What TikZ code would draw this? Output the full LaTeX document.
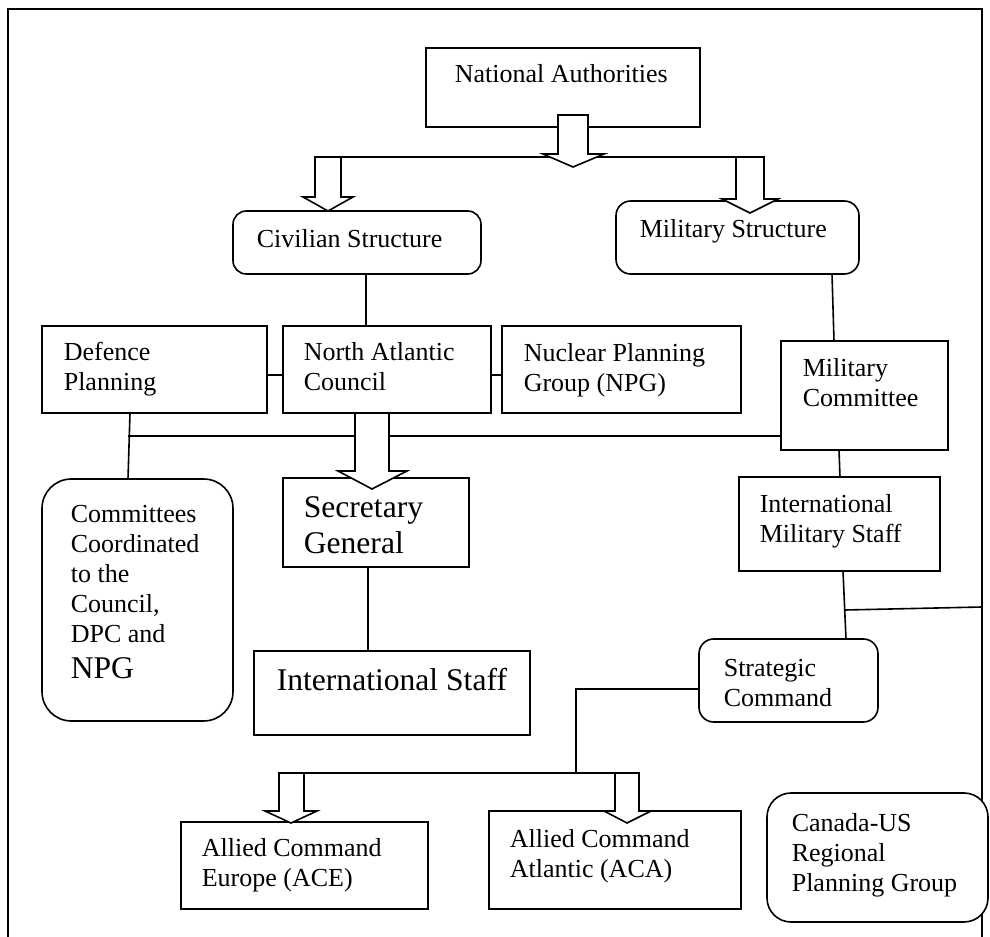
\documentclass[tikz,border=0pt]{standalone}
\usepackage{fontspec}
\setmainfont{Liberation Serif}
\newcommand\sgfont{\fontsize{23.7}{27}\selectfont}

\tikzset{every picture/.style={line width=1.2pt}}
\tikzset{
  box/.style={draw, fill=white, inner sep=0pt, outer sep=0pt, anchor=north west},
  rbox/.style={box, rounded corners=#1},
  txt/.style={anchor=base west, inner sep=0pt, align=left, font=\fontsize{19.5}{22.5}\selectfont},
  bigtxt/.style={txt, font=\sgfont},
  blkarrow/.style={draw, fill=white, line join=miter}
}

\begin{document}
\begin{tikzpicture}[x=0.75pt,y=0.75pt,yscale=-1,xscale=1]
\useasboundingbox (0,0) rectangle (990,937);

%Frame
\draw (8,937) -- (8,9) -- (982,9) -- (982,937) ;

%Shape: Rectangle
\node [box, minimum width=205.5pt, minimum height=59.25pt] (na) at (426,48) {};
%Rounded Rect
\node [rbox=10pt, minimum width=186pt, minimum height=47.25pt] (cs) at (233,211) {};
%Rounded Rect
\node [rbox=11pt, minimum width=182.25pt, minimum height=54.75pt] (ms) at (616,201) {};
%Shape: Rectangle
\node [box, minimum width=168.75pt, minimum height=65.25pt] (dp) at (42,326) {};
%Shape: Rectangle
\node [box, minimum width=156pt, minimum height=65.25pt] (nac) at (283,326) {};
%Shape: Rectangle
\node [box, minimum width=179.25pt, minimum height=65.25pt] (npg) at (502,326) {};
%Shape: Rectangle
\node [box, minimum width=125.25pt, minimum height=81.75pt] (mc) at (781,341) {};
%Shape: Rectangle
\node [box, minimum width=139.5pt, minimum height=66.75pt] (sg) at (283,478) {};
%Rounded Rect
\node [rbox=22pt, minimum width=143.25pt, minimum height=181.5pt] (cmt) at (42,479) {};
%Shape: Rectangle
\node [box, minimum width=207pt, minimum height=63pt] (is) at (254,651) {};
%Shape: Rectangle
\node [box, minimum width=150.75pt, minimum height=70.5pt] (ims) at (739,477) {};
%Rounded Rect
\node [rbox=11pt, minimum width=134.25pt, minimum height=62.25pt] (sc) at (699,639) {};
%Shape: Rectangle
\node [box, minimum width=185.25pt, minimum height=65.25pt] (ace) at (181,822) {};
%Shape: Rectangle
\node [box, minimum width=189pt, minimum height=73.5pt] (aca) at (489,811) {};

%Straight Lines
\draw (315,157) -- (764,157) ;
%Straight Lines
\draw (cs.south -| 366,0) -- (nac.north -| 366,0) ;
%Straight Lines
\draw (ms.south -| 832,0) -- (mc.north -| 834,0) ;
%Straight Lines
\draw (dp.east |- 0,375) -- (nac.west |- 0,375) ;
%Straight Lines
\draw (nac.east |- 0,375) -- (npg.west |- 0,375) ;
%Straight Lines
\draw (128,436) -- (mc.west |- 0,436) ;
%Straight Lines
\draw (dp.south -| 130,0) -- (cmt.north -| 128,0) ;
%Straight Lines
\draw (sg.south -| 368,0) -- (is.north -| 368,0) ;
%Straight Lines
\draw (mc.south -| 839,0) -- (ims.north -| 840,0) ;
%Straight Lines
\draw (ims.south -| 843,0) -- (sc.north -| 846,0) ;
%Straight Lines
\draw (845,610) -- (982,607) ;
%Straight Lines
\draw (sc.west |- 0,689) -| (576,773) ;
%Straight Lines
\draw (279,773) -- (639,773) ;

%Rounded Rect
\node [rbox=18pt, minimum width=165.75pt, minimum height=96.75pt] (cus) at (767,793) {};

%Shape: Down Arrow
\draw [blkarrow] (558,115) -- (588,115) -- (588,154) -- (604,154) -- (573,167) -- (543,154) -- (558,154) -- cycle ;
%Shape: Down Arrow
\draw [blkarrow] (315,157) -- (341,157) -- (341,197) -- (353,197) -- (328,211) -- (303,197) -- (315,197) -- cycle ;
%Shape: Down Arrow
\draw [blkarrow] (736,157) -- (764,157) -- (764,199) -- (778,199) -- (750,213) -- (722,199) -- (736,199) -- cycle ;
%Shape: Down Arrow
\draw [blkarrow] (355,413) -- (389,413) -- (389,471) -- (407,471) -- (372,489) -- (338,471) -- (355,471) -- cycle ;
%Shape: Down Arrow
\draw [blkarrow] (279,773) -- (304,773) -- (304,811) -- (317,811) -- (291,823) -- (265,811) -- (279,811) -- cycle ;
%Shape: Down Arrow
\draw [blkarrow] (615,773) -- (639,773) -- (639,811) -- (651,811) -- (627,823) -- (604,811) -- (615,811) -- cycle ;

% Text Node
\node [txt] (na-t) at (454,83) {National Authorities};
% Text Node
\node [txt] (cs-t) at (256,248) {Civilian Structure};
% Text Node
\node [txt] (ms-t) at (639,238) {Military Structure};
% Text Node
\node [txt] (dp-t) at (63,391) {Defence\\Planning};
% Text Node
\node [txt] (nac-t) at (303,391) {North Atlantic\\Council};
% Text Node
\node [txt] (npg-t) at (523,392) {Nuclear Planning\\Group (NPG)};
% Text Node
\node [txt] (mc-t) at (802,407) {Military\\Committee};
% Text Node
\node [bigtxt] (sg-t) at (303,554) {Secretary\\General};
% Text Node
\node [txt] (cmt-t) at (70,679) {Committees\\Coordinated\\to the\\Council,\\DPC and\\[4.5pt]{\sgfont NPG}};
% Text Node
\node [bigtxt] (is-t) at (276,691) {International Staff};
% Text Node
\node [txt] (ims-t) at (759,543) {International\\Military Staff};
% Text Node
\node [txt] (sc-t) at (723,707) {Strategic\\Command};
% Text Node
\node [txt] (ace-t) at (201,887) {Allied Command\\Europe (ACE)};
% Text Node
\node [txt] (aca-t) at (509,878) {Allied Command\\Atlantic (ACA)};
% Text Node
\node [txt] (cus-t) at (791,892) {Canada-US\\Regional\\Planning Group};

\end{tikzpicture}
\end{document}
